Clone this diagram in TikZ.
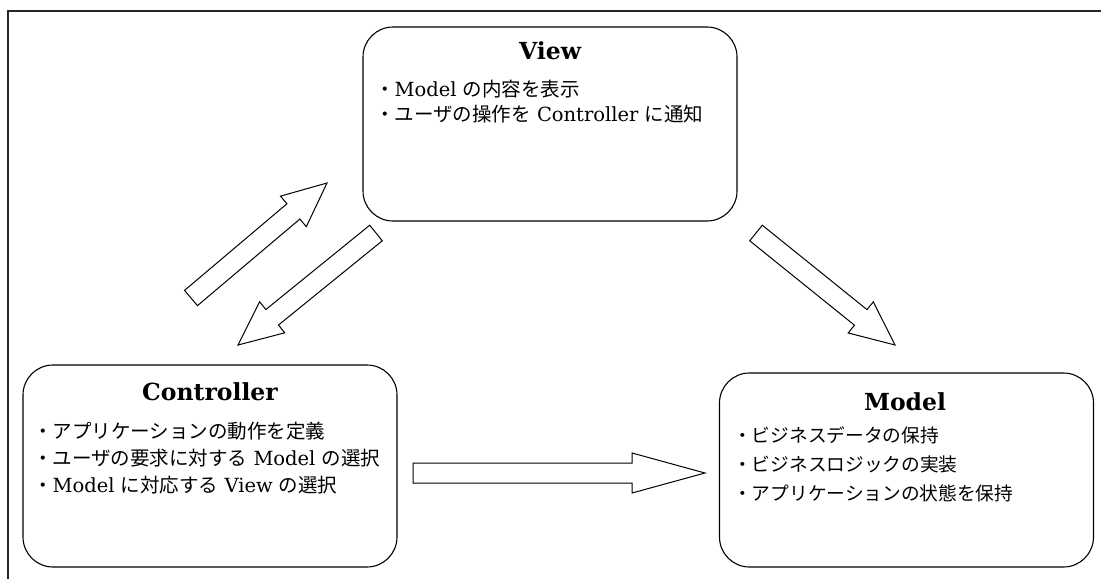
\documentclass[tikz,border=0pt]{standalone}
\usepackage{fontspec}
\setmainfont{DejaVu Serif}
\newfontfamily\jp{Noto Sans CJK JP}
\usetikzlibrary{calc}
\tikzset{
  box/.style={draw, line width=1.1pt, rounded corners=30pt, minimum width=374pt, inner sep=0pt},
  title/.style={font=\fontsize{23.5}{28}\selectfont\bfseries, inner sep=0pt},
  item/.style={font=\fontsize{19.5}{23}\selectfont, anchor=west, inner sep=0pt},
  mitem/.style={item, font=\fontsize{18.7}{23}\selectfont},
  barrow/.style={draw, line width=1pt, line join=miter, fill=white},
  frame/.style={line width=1.4pt, draw=black!85}
}
% #1 tail, #2 tip, #3 head length
\newcommand\blockarrow[3]{%
  \draw[barrow] ($(#1)!10pt!90:(#2)$)
    -- ($(#2)!#3!(#1)!10pt!-90:(#1)$)
    -- ($(#2)!#3!(#1)!20pt!-90:(#1)$)
    -- (#2)
    -- ($(#2)!#3!(#1)!20pt!90:(#1)$)
    -- ($(#2)!#3!(#1)!10pt!90:(#1)$)
    -- ($(#1)!10pt!-90:(#2)$) -- cycle;}
\begin{document}
\begin{tikzpicture}[x=1pt,y=-1pt]
\useasboundingbox (0,0) rectangle (1101,579);
% frame
\coordinate (ftr) at (1101,11);
\coordinate (ftl) at (8,11);
\coordinate (fbl) at (8,579);
\draw[frame] (ftr) -- (ftl) -- (fbl);

% boxes
\node[box, minimum height=194pt] (view) at (550,124) {};
\node[box, minimum height=202pt] (ctrl) at (210,466) {};
\node[box, minimum height=194pt] (model) at (906.5,470) {};

% titles
\node[title] (vt) at (550,51) {View};
\node[title] (ct) at (210,392) {Controller};
\node[title] (mt) at (905,402) {Model};

% items
\node[item] (v1) at (375,89) {{\jp ・}Model {\jp の内容を表示}};
\node[item] (v2) at (375,114) {{\jp ・ユーザの操作を} Controller {\jp に通知}};
\node[item] (c1) at (33,431) {{\jp ・アプリケーションの動作を定義}};
\node[item] (c2) at (33,458) {{\jp ・ユーザの要求に対する} Model {\jp の選択}};
\node[item] (c3) at (33,485) {{\jp ・}Model {\jp に対応する} View {\jp の選択}};
\node[mitem] (m1) at (733,435) {{\jp ・ビジネスデータの保持}};
\node[mitem] (m2) at (733,464) {{\jp ・ビジネスロジックの実装}};
\node[mitem] (m3) at (733,493) {{\jp ・アプリケーションの状態を保持}};

% arrows
\coordinate (cvA) at (191,298);
\coordinate (cvB) at (327,183);
\coordinate (vcA) at (376,233);
\coordinate (vcB) at (238,345);
\coordinate (vmA) at (756,233);
\coordinate (vmB) at (895,345);
\coordinate (cmA) at (413,473);
\coordinate (cmB) at (705,473);
\blockarrow{cvA}{cvB}{44pt}
\blockarrow{vcA}{vcB}{44pt}
\blockarrow{vmA}{vmB}{44pt}
\blockarrow{cmA}{cmB}{73pt}
\end{tikzpicture}
\end{document}
